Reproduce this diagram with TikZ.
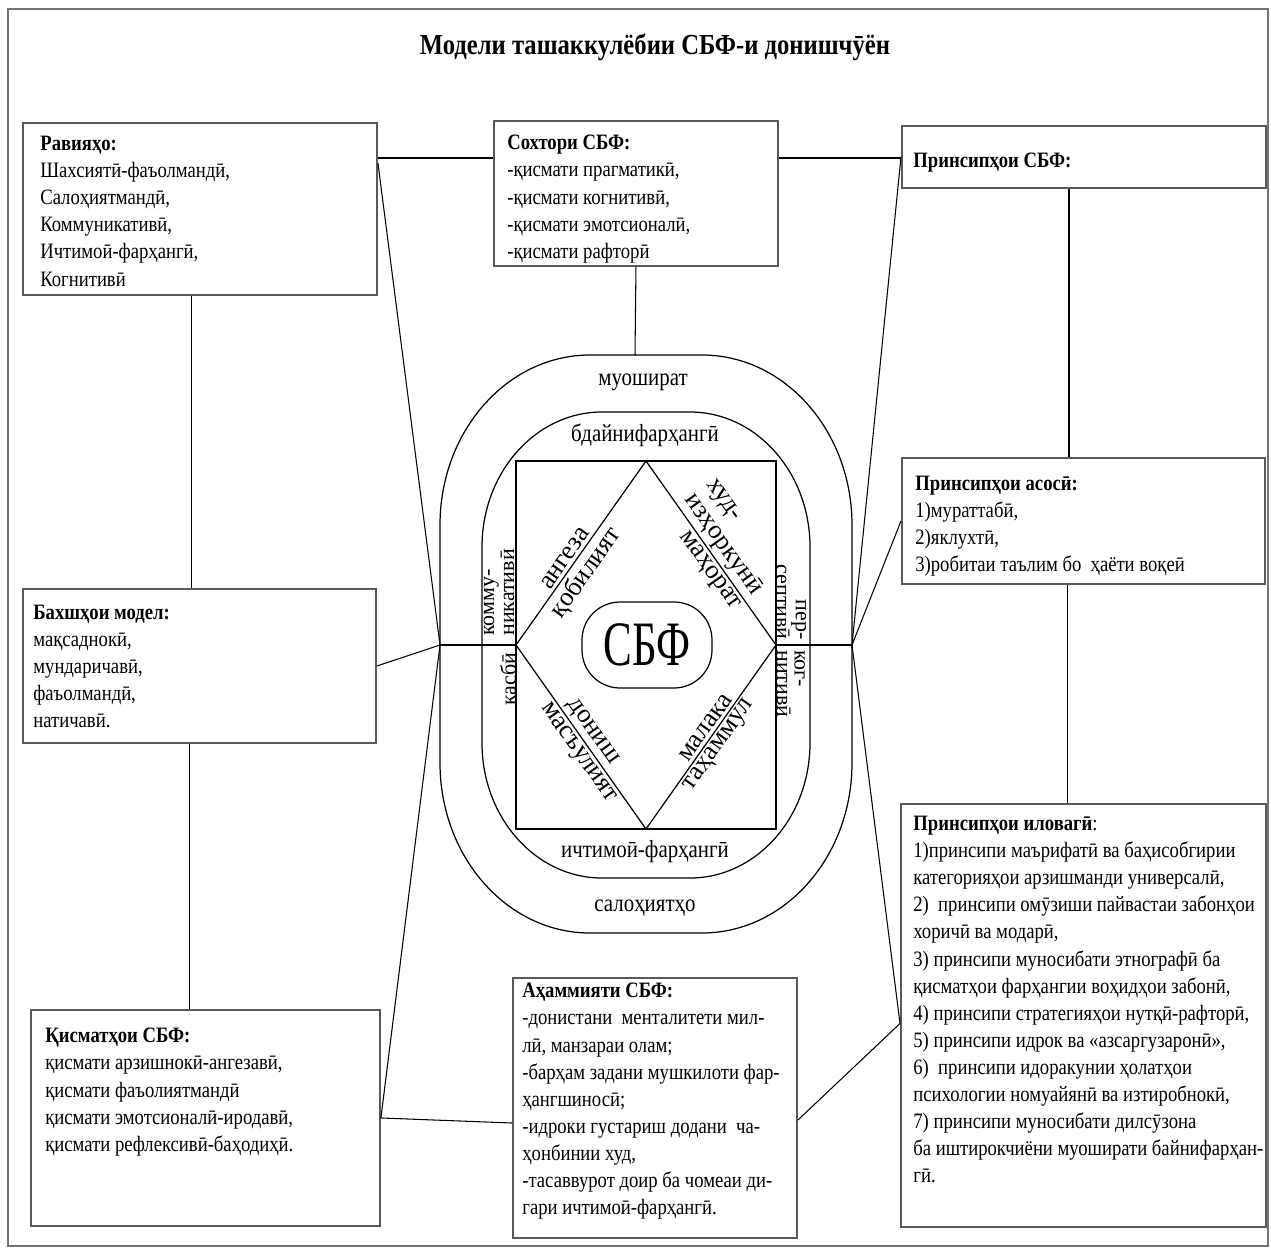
\documentclass[tikz,border=0pt]{standalone}
\usepackage{fontspec}
\setmainfont[FakeStretch=0.85]{Liberation Serif}
\newfontfamily\plainfont{Liberation Serif}
\usepackage{tikz}
\usetikzlibrary{positioning}

\newlength\px
\setlength\px{0.02cm}
\newcommand\boxfont{\fontsize{12.5}{15.4}\selectfont}
\newcommand\ringfont{\fontsize{14}{15.5}\selectfont}
\newcommand\edgefont{\plainfont\fontsize{15}{15.5}\selectfont}
\newcommand\sidefont{\plainfont\fontsize{12.5}{10}\selectfont}

\begin{document}
\begin{tikzpicture}[x=0.02cm, y=-0.02cm,
                    infobox/.style={draw=black!65, line width=1.1pt, anchor=north west, inner sep=0pt},
                    boxtext/.style={anchor=north west, inner sep=0pt, align=left, font=\boxfont},
                    link/.style={black, line width=0.6pt},
                    ring/.style={black, line width=0.7pt},
                    ringlabel/.style={font=\ringfont, inner sep=1pt},
                    edgelabel/.style={font=\edgefont, inner sep=1.5pt, sloped},
                    sidelabel/.style={font=\sidefont, inner sep=0pt},
                   ]

\useasboundingbox (0,0) rectangle (1271,1254);
\draw[black!55, line width=0.8pt] (8,9) rectangle (1268,1246);

\node[font=\bfseries\fontsize{16.5}{20}\selectfont] (title) at (655,47) {Модели ташаккулёбии СБФ-и донишчӯён};

% boxes
\node[infobox, minimum width=354\px, minimum height=172\px] (ravi) at (22,122) {};
\node[infobox, minimum width=284\px, minimum height=145\px] (sokhtor) at (493,120) {};
\node[infobox, minimum width=364\px, minimum height=62\px] (prin) at (901,125) {};
\node[infobox, minimum width=363\px, minimum height=126\px] (asosi) at (901,457) {};
\node[infobox, minimum width=365\px, minimum height=423\px] (ilovagi) at (900,803) {};
\node[infobox, minimum width=284\px, minimum height=260\px] (ahammiyat) at (512,977) {};
\node[infobox, minimum width=349\px, minimum height=216\px] (qismat) at (30,1009) {};
\node[infobox, minimum width=353\px, minimum height=154\px] (bakhsh) at (22,588) {};

\node[boxtext] (ravitxt) at ([shift={(18,14)}]ravi.north west) {\textbf{Равияҳо:}\\
Шахсиятӣ-фаъолмандӣ,\\
Салоҳиятмандӣ,\\
Коммуникативӣ,\\
Ичтимоӣ-фарҳангӣ,\\
Когнитивӣ};

\node[boxtext] (sokhtortxt) at ([shift={(14,15)}]sokhtor.north west) {\textbf{Сохтори СБФ:}\\
-қисмати прагматикӣ,\\
-қисмати когнитивӣ,\\
-қисмати эмотсионалӣ,\\
-қисмати рафторӣ};

\node[boxtext] (printxt) at ([shift={(12,28)}]prin.north west) {\textbf{Принсипҳои СБФ:}};

\node[boxtext] (asositxt) at ([shift={(14,19)}]asosi.north west) {\textbf{Принсипҳои асосӣ:}\\
1)мураттабӣ,\\
2)яклухтӣ,\\
3)робитаи таълим бо\ \ ҳаёти воқеӣ};

\node[boxtext] (ilovagitxt) at ([shift={(13,13)}]ilovagi.north west) {\textbf{Принсипҳои иловагӣ}:\\
1)принсипи маърифатӣ ва баҳисобгирии\\
категорияҳои арзишманди универсалӣ,\\
2)\ \ принсипи омӯзиши пайвастаи забонҳои\\
хоричӣ ва модарӣ,\\
3) принсипи муносибати этнографӣ ба\\
қисматҳои фарҳангии воҳидҳои забонӣ,\\
4) принсипи стратегияҳои нутқӣ-рафторӣ,\\
5) принсипи идрок ва «азсаргузаронӣ»,\\
6)\ \ принсипи идоракунии ҳолатҳои\\
психологии номуайянӣ ва изтиробнокӣ,\\
7) принсипи муносибати дилсӯзона\\
ба иштирокчиёни муоширати байнифарҳан-\\
гӣ.};

\node[boxtext] (ahammiyattxt) at ([shift={(10,6)}]ahammiyat.north west) {\textbf{Аҳаммияти СБФ:}\\
-донистани\ \ менталитети мил-\\
лӣ, манзараи олам;\\
-барҳам задани мушкилоти фар-\\
ҳангшиносӣ;\\
-идроки густариш додани\ \ ча-\\
ҳонбинии худ,\\
-тасаввурот доир ба чомеаи ди-\\
гари ичтимоӣ-фарҳангӣ.};

\node[boxtext] (qismattxt) at ([shift={(15,19)}]qismat.north west) {\textbf{Қисматҳои СБФ:}\\
қисмати арзишнокӣ-ангезавӣ,\\
қисмати фаъолиятмандӣ\\
қисмати эмотсионалӣ-иродавӣ,\\
қисмати рефлексивӣ-баҳодиҳӣ.};

\node[boxtext] (bakhshtxt) at ([shift={(11,17)}]bakhsh.north west) {\textbf{Бахшҳои модел:}\\
мақсаднокӣ,\\
мундаричавӣ,\\
фаъолмандӣ,\\
натичавӣ.};

% centre figure
\coordinate (ttop) at (635,355);
\coordinate (lhub) at (440,645);
\coordinate (rhub) at (852,645);
\coordinate (dtop) at (646,461);
\coordinate (dleft) at (516,645);
\coordinate (dbot) at (646,829);
\coordinate (dright) at (776,645);

\draw[ring] (590,355) -- (702,355)
   arc[start angle=90, end angle=0, x radius=150\px, y radius=170\px] -- (852,763)
   arc[start angle=0, end angle=-90, x radius=150\px, y radius=170\px] -- (590,933)
   arc[start angle=270, end angle=180, x radius=150\px, y radius=170\px] -- (440,525)
   arc[start angle=180, end angle=90, x radius=150\px, y radius=170\px] -- cycle;
\draw[ring] (602,412) -- (690,412)
   arc[start angle=90, end angle=0, x radius=120\px, y radius=135\px] -- (810,743)
   arc[start angle=0, end angle=-90, x radius=120\px, y radius=135\px] -- (602,878)
   arc[start angle=270, end angle=180, x radius=120\px, y radius=135\px] -- (482,547)
   arc[start angle=180, end angle=90, x radius=120\px, y radius=135\px] -- cycle;

\draw[ring] (dleft |- dtop) rectangle (dright |- dbot);

\draw[ring] (dleft) -- node[pos=.44, above, edgelabel]{ангеза} node[pos=.44, below, edgelabel]{қобилият} (dtop);
\draw[ring] (dtop) -- node[pos=.5, above, edgelabel, align=left]{худ-\\изҳоркунӣ} node[pos=.56, below, edgelabel]{маҳорат} (dright);
\draw[ring] (dleft) -- node[pos=.51, above, edgelabel]{дониш} node[pos=.55, below, edgelabel]{масъулият} (dbot);
\draw[ring] (dbot) -- node[pos=.52, above, edgelabel]{малака} node[pos=.49, below, edgelabel]{таҳаммул} (dright);

\node[draw, line width=0.7pt, rounded corners=0.76cm, minimum width=130\px, minimum height=86\px, inner sep=0pt,
      font=\fontsize{36}{36}\selectfont] (sbf) at (647,645) {\scalebox{0.8}[1]{СБФ}};

\node[ringlabel] (muosh) at (643,382) {муошират};
\node[ringlabel] (bayni) at (645,435) {бдайнифарҳангӣ};
\node[ringlabel] (ijtim) at (645,852) {ичтимоӣ-фарҳангӣ};
\node[ringlabel] (salo) at (645,908) {салоҳиятҳо};

\node[sidelabel, rotate=90, anchor=west, align=left] (kommu) at (499,636) {комму-\\никативӣ};
\node[sidelabel, rotate=90, anchor=east] (kasbi) at (508,652) {касбӣ};
\node[sidelabel, rotate=-90, anchor=east, align=right] (perc) at (791,640) {пер-\\септивӣ};
\node[sidelabel, rotate=-90, anchor=west, align=left] (kogn) at (791,650) {ког-\\нитивӣ};

% connectors
\draw[link] ([yshift=-36\px]ravi.north east) -- ([yshift=-38\px]sokhtor.north west);
\draw[link] ([yshift=-38\px]sokhtor.north east) -- ([yshift=-33\px]prin.north west);
\draw[link] (sokhtor.south) -- (ttop);
\draw[link] ([xshift=-8\px]ravi.south) -- ([xshift=-8\px]ravi.south |- bakhsh.north);
\draw[link] ([xshift=-10\px]bakhsh.south) -- ([xshift=-10\px]bakhsh.south |- qismat.north);
\draw[link] ([xshift=-15\px]prin.south) -- ([xshift=-15\px]prin.south |- asosi.north);
\draw[link] ([xshift=-16\px]asosi.south) -- ([xshift=-16\px]asosi.south |- ilovagi.north);

\draw[link] ([yshift=-41\px]ravi.north east) -- (lhub);
\draw[link] (bakhsh.east) -- (lhub);
\draw[link] (qismat.east) -- (lhub);
\draw[link] (qismat.east) -- ([yshift=-146\px]ahammiyat.north west);
\coordinate (ilin) at ([yshift=-8\px]ilovagi.west);
\draw[link] ([yshift=-143\px]ahammiyat.north east) -- (ilin);
\draw[link] (prin.west) -- (rhub) -- (asosi.west);
\draw[link] (rhub) -- (ilin);
\draw[ring] (lhub) -- (dleft);
\draw[ring] (dright) -- (rhub);

\end{tikzpicture}
\end{document}
